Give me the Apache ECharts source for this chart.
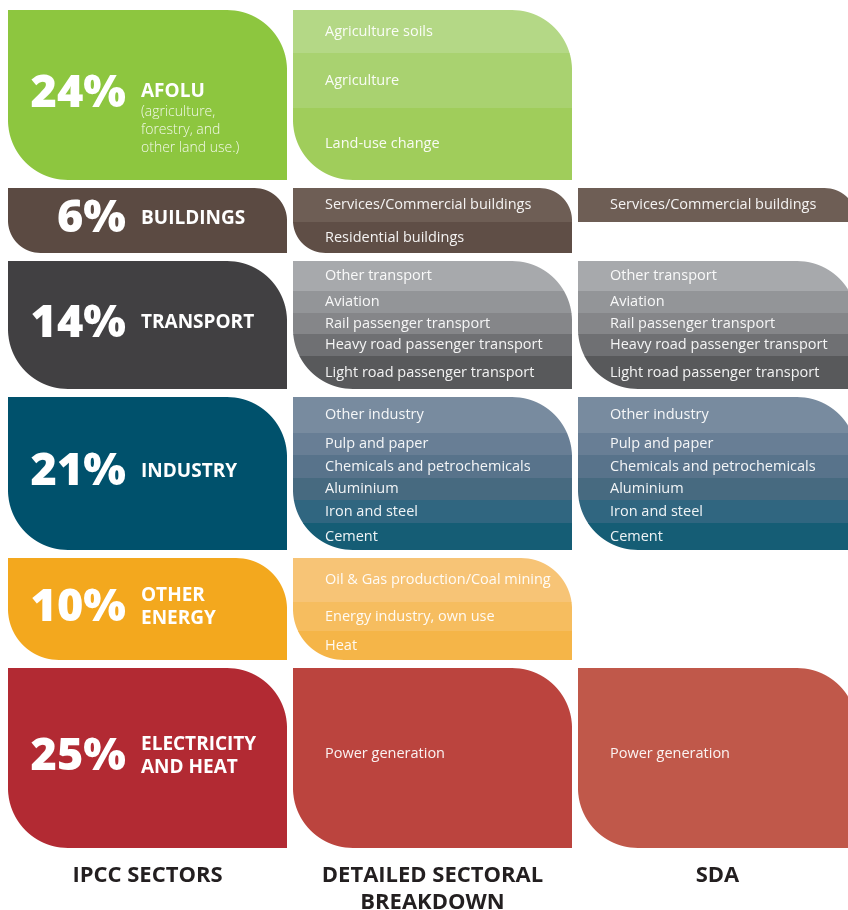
<!DOCTYPE html>
<html>
<head>
<meta charset="utf-8">
<script src="https://cdn.jsdelivr.net/npm/echarts@6/dist/echarts.min.js"></script>
<style>
html,body{margin:0;padding:0;background:#fff;overflow:hidden;}
#chart{width:848px;height:910px;}
</style>
</head>
<body>
<div id="chart"></div>
<script>
// ---------- data ----------
const columns = ['IPCC SECTORS', 'DETAILED SECTORAL\nBREAKDOWN', 'SDA'];
const sectorNames = ['AFOLU', 'BUILDINGS', 'TRANSPORT', 'INDUSTRY', 'OTHER\nENERGY', 'ELECTRICITY\nAND HEAT'];
const sectorNotes = ['(agriculture,\nforestry, and\nother land use.)', '', '', '', '', ''];
const sectorShares = [24, 6, 14, 21, 10, 25];
// displayed block height of each sector (axis units)
const sectorSpans = [170, 65, 128, 153, 102, 180];

const transportRows = ['Other transport', 'Aviation', 'Rail passenger transport', 'Heavy road passenger transport', 'Light road passenger transport'];
const transportSpans = [30, 22, 21, 22, 33];
const industryRows = ['Other industry', 'Pulp and paper', 'Chemicals and petrochemicals', 'Aluminium', 'Iron and steel', 'Cement'];
const industrySpans = [36, 22, 23, 22, 23, 27];

const detailLabels = [
  ['Agriculture soils', 'Agriculture', 'Land-use change'],
  ['Services/Commercial buildings', 'Residential buildings'],
  transportRows,
  industryRows,
  ['Oil & Gas production/Coal mining', 'Energy industry, own use', 'Heat'],
  ['Power generation']
];
const detailSpans = [[43, 55, 72], [34, 31], transportSpans, industrySpans, [44, 29, 29], [180]];

const sdaLabels = [[], ['Services/Commercial buildings'], transportRows, industryRows, [], ['Power generation']];
const sdaSpans = [[], [34], transportSpans, industrySpans, [], [180]];

// ---------- styles ----------
const sectorColors = ['#8dc63f', '#5b4a42', '#414042', '#00516c', '#f3a81e', '#b22a33'];
const detailColors = [
  ['#b4d886', '#a9d270', '#a0cd5b'],
  ['#6e5e55', '#5f4e46'],
  ['#a7a9ac', '#939598', '#858689', '#6f7073', '#58595b'],
  ['#788b9f', '#687e95', '#58738b', '#476a80', '#306680', '#155d75'],
  ['#f7c476', '#f6bd5f', '#f5b548'],
  ['#bb443e']
];
const sdaColors = [
  [],
  ['#6e5e55'],
  ['#a7a9ac', '#939598', '#858689', '#6f7073', '#58595b'],
  ['#788b9f', '#687e95', '#58738b', '#476a80', '#306680', '#155d75'],
  [],
  ['#c0584a']
];
const GAP = 8;

// cumulative sector starts on the value axis
const sectorStart = [];
let acc = 0;
sectorSpans.forEach((s, i) => { sectorStart.push(acc); acc += s + (i < sectorSpans.length - 1 ? GAP : 0); });
const yMax = acc;

// one data item per (column, sector) block
const blocks = [];
for (let c = 0; c < 3; c++) {
  for (let s = 0; s < sectorNames.length; s++) {
    if (c === 1 && detailSpans[s].length === 0) continue;
    if (c === 2 && sdaSpans[s].length === 0) continue;
    blocks.push([c, s]);
  }
}

function leafPoints(x0, x1, y0, y1, r, ya, yb) {
  const right = y => (y < y0 + r) ? x1 - r + Math.sqrt(Math.max(0, r * r - Math.pow(y0 + r - y, 2))) : x1;
  const left = y => (y > y1 - r) ? x0 + r - Math.sqrt(Math.max(0, r * r - Math.pow(y - (y1 - r), 2))) : x0;
  const pts = [];
  for (let y = ya; y < yb; y += 0.5) pts.push([right(y), y]);
  pts.push([right(yb), yb]);
  for (let y = yb; y > ya; y -= 0.5) pts.push([left(y), y]);
  pts.push([left(ya), ya]);
  return pts;
}

function renderItem(params, api) {
  const c = api.value(0);
  const s = api.value(1);
  const band = api.size([1, 0])[0];
  const cx = api.coord([c, 0])[0];
  const bandStart = cx - band / 2;
  const x0 = bandStart + 3;
  const x1 = bandStart + band - 3;
  const top = api.coord([c, sectorStart[s]])[1];
  const bottom = api.coord([c, sectorStart[s] + sectorSpans[s]])[1];
  const r = Math.min(60, (bottom - top) / 2);
  const children = [];
  if (c === 0) {
    children.push({
      type: 'polygon',
      shape: { points: leafPoints(x0, x1, top, bottom, r, top, bottom) },
      style: { fill: sectorColors[s] }
    });
    const midY = (top + bottom) / 2 - 3;
    children.push({
      type: 'text',
      style: {
        text: sectorShares[s] + '%', x: bandStart + 121, y: midY + 2,
        align: 'right', verticalAlign: 'middle', fill: '#fff',
        font: '800 45px "Open Sans"'
      }
    });
    if (sectorNotes[s]) {
      children.push({
        type: 'text',
        style: {
          text: '{n|' + sectorNames[s] + '}\n' + sectorNotes[s].split('\n').map(t => '{s|' + t + '}').join('\n'),
          x: bandStart + 136, y: midY - 11, align: 'left', verticalAlign: 'top',
          rich: {
            n: { fill: '#fff', font: '700 19px "Open Sans"', lineHeight: 22 },
            s: { fill: 'rgba(255,255,255,0.88)', font: '300 14px "Open Sans"', lineHeight: 18 }
          }
        }
      });
    } else {
      children.push({
        type: 'text',
        style: {
          text: sectorNames[s], x: bandStart + 136, y: midY + 1,
          align: 'left', verticalAlign: 'middle', fill: '#fff',
          font: '700 19px "Open Sans"', lineHeight: 23
        }
      });
    }
  } else {
    const labels = c === 1 ? detailLabels[s] : sdaLabels[s];
    const spans = c === 1 ? detailSpans[s] : sdaSpans[s];
    const colors = c === 1 ? detailColors[s] : sdaColors[s];
    let v = sectorStart[s];
    spans.forEach((sp, i) => {
      const ya = api.coord([c, v])[1];
      const yb = api.coord([c, v + sp])[1];
      const last = i === spans.length - 1;
      children.push({
        type: 'polygon',
        shape: { points: leafPoints(x0, x1, top, bottom, r, ya, last ? yb : Math.min(yb + 0.6, bottom)) },
        style: { fill: colors[i] }
      });
      const whole = sp === sectorSpans[s];
      children.push({
        type: 'text',
        style: {
          text: labels[i], x: bandStart + 35, y: (ya + yb) / 2 + (whole ? -4 : 0),
          align: 'left', verticalAlign: 'middle', fill: 'rgba(255,255,255,0.93)',
          font: '400 14.5px "Open Sans"'
        },
        z2: 10
      });
      v += sp;
    });
  }
  return { type: 'group', children: children };
}

const chart = echarts.init(document.getElementById('chart'), null, { renderer: 'canvas' });
chart.setOption({
  animation: false,
  backgroundColor: '#ffffff',
  grid: { left: 5, width: 855, top: 10, height: yMax, containLabel: false, outerBoundsMode: 'none' },
  xAxis: {
    type: 'category',
    data: columns,
    position: 'bottom',
    axisLine: { show: false },
    axisTick: { show: false },
    splitLine: { show: false },
    axisLabel: {
      margin: 14,
      color: '#231f20',
      fontFamily: 'Open Sans',
      fontWeight: 700,
      fontSize: 22,
      lineHeight: 27,
      interval: 0
    }
  },
  yAxis: {
    type: 'value',
    inverse: true,
    min: 0,
    max: yMax,
    show: false
  },
  series: [{
    type: 'custom',
    clip: false,
    renderItem: renderItem,
    data: blocks
  }]
});
</script>
</body>
</html>
